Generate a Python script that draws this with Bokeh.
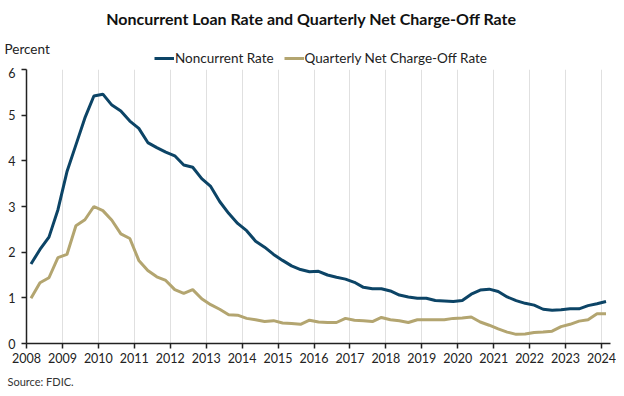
from bokeh.plotting import figure
from bokeh.layouts import column
from bokeh.models import Legend, LegendItem, Label, FixedTicker, Range1d, ColumnDataSource
from bokeh.embed import file_html
from bokeh.resources import INLINE

years = list(range(2008, 2025))
year_labels = [str(y) for y in years]
# quarterly values 2008Q1 .. 2024Q1
quarters = [f"{y}Q{q}" for y in range(2008, 2024) for q in range(1, 5)] + ["2024Q1"]
noncurrent = [1.74, 2.06, 2.33, 2.93, 3.76, 4.35, 4.94, 5.42, 5.46, 5.22, 5.09, 4.87,
              4.71, 4.40, 4.29, 4.19, 4.11, 3.91, 3.86, 3.61, 3.44, 3.11, 2.85, 2.63,
              2.47, 2.24, 2.11, 1.95, 1.82, 1.70, 1.62, 1.57, 1.58, 1.50, 1.45, 1.41,
              1.34, 1.23, 1.20, 1.20, 1.15, 1.06, 1.02, 0.99, 0.99, 0.94, 0.93, 0.92,
              0.94, 1.08, 1.17, 1.19, 1.14, 1.02, 0.94, 0.88, 0.84, 0.75, 0.73, 0.74,
              0.76, 0.76, 0.83, 0.87, 0.92]
chargeoff = [0.99, 1.33, 1.44, 1.88, 1.95, 2.58, 2.71, 3.00, 2.91, 2.70, 2.40, 2.30,
             1.82, 1.60, 1.46, 1.38, 1.18, 1.10, 1.18, 0.98, 0.85, 0.75, 0.63, 0.62,
             0.55, 0.52, 0.48, 0.50, 0.45, 0.44, 0.42, 0.51, 0.47, 0.46, 0.46, 0.55,
             0.51, 0.50, 0.48, 0.57, 0.52, 0.50, 0.46, 0.52, 0.52, 0.52, 0.52, 0.55,
             0.56, 0.58, 0.47, 0.40, 0.32, 0.25, 0.20, 0.21, 0.24, 0.25, 0.27, 0.37,
             0.42, 0.49, 0.52, 0.65, 0.65]
series_names = ["Noncurrent Rate", "Quarterly Net Charge-Off Rate"]

xpos = [int(s[:4]) + (int(s[-1]) - 1) / 4 + 0.125 for s in quarters]
src = ColumnDataSource(dict(x=xpos, nc=noncurrent, co=chargeoff))

FONT = "Lato"
NAVY = "#0c4466"
TAN = "#b3a570"
TXT = "#222222"

# ---- header: title, unit label, legend
W = 616
HH = 67
h = figure(width=W, height=HH, output_backend="svg", toolbar_location=None,
           x_axis_type=None, y_axis_type=None, x_range=Range1d(0, 1), y_range=Range1d(0, 1),
           min_border=0, min_border_left=0, min_border_right=0, min_border_top=0, min_border_bottom=0)
h.frame_align = False
h.outline_line_color = None
h.xgrid.visible = False
h.ygrid.visible = False
# legend-only renderers (their data lie outside this header's ranges)
d1 = h.line("x", "nc", source=src, line_color=NAVY, line_width=3)
d2 = h.line("x", "co", source=src, line_color=TAN, line_width=3)
h.add_layout(Label(x=311, y=HH - 18, x_units="screen", y_units="screen",
                   text="Noncurrent Loan Rate and Quarterly Net Charge-Off Rate",
                   text_font=FONT, text_font_size="16px", text_font_style="bold",
                   text_align="center", text_baseline="middle", text_color="#111111"))
h.add_layout(Label(x=4, y=HH - 48, x_units="screen", y_units="screen", text="Percent",
                   text_font=FONT, text_font_size="13.5px", text_baseline="middle",
                   text_color=TXT))
legend = Legend(items=[LegendItem(label=series_names[0], renderers=[d1]),
                       LegendItem(label=series_names[1], renderers=[d2])],
                orientation="horizontal", location=(154, 1),
                label_text_font=FONT, label_text_font_size="13.5px", label_text_color=TXT,
                glyph_width=20, glyph_height=12, label_standoff=1, spacing=10,
                padding=0, margin=0, border_line_color=None, background_fill_alpha=0)
h.add_layout(legend, "center")

# ---- main chart
p = figure(width=W, height=306, output_backend="svg", toolbar_location=None,
           x_range=Range1d(2008, 2024.25), y_range=Range1d(0, 6),
           min_border_left=26, min_border_right=6, min_border_top=2, min_border_bottom=30)
p.frame_align = False
p.outline_line_color = None
p.background_fill_color = "white"

p.line("x", "nc", source=src, line_color=NAVY, line_width=3)
p.line("x", "co", source=src, line_color=TAN, line_width=3)

p.xaxis.ticker = FixedTicker(ticks=years)
p.xaxis.major_label_overrides = {y: l for y, l in zip(years, year_labels)}
p.xgrid.ticker = FixedTicker(ticks=years[1:])
p.xgrid.grid_line_color = "#e0e0e0"
p.xgrid.grid_line_width = 1
p.ygrid.grid_line_color = None
p.yaxis.ticker = FixedTicker(ticks=[0, 1, 2, 3, 4, 5, 6])
for ax in (p.xaxis[0], p.yaxis[0]):
    ax.axis_line_color = TXT
    ax.axis_line_width = 1.5
    ax.major_tick_line_color = TXT
    ax.major_tick_line_width = 1.5
    ax.major_tick_in = 0
    ax.major_tick_out = 5
    ax.minor_tick_line_color = None
    ax.major_label_text_font = FONT
    ax.major_label_text_font_size = "12.5px"
    ax.major_label_text_color = TXT
p.xaxis.major_label_standoff = 4
p.yaxis.major_label_standoff = 6

# ---- footer: source note
FH = 15
f = figure(width=W, height=FH, output_backend="svg", toolbar_location=None,
           x_axis_type=None, y_axis_type=None, x_range=Range1d(0, 1), y_range=Range1d(0, 1),
           min_border=0, min_border_left=0, min_border_right=0, min_border_top=0, min_border_bottom=0)
f.frame_align = False
f.outline_line_color = None
f.xgrid.visible = False
f.ygrid.visible = False
f.add_layout(Label(x=7, y=7, x_units="screen", y_units="screen", text="Source: FDIC.",
                   text_font=FONT, text_font_size="11px", text_baseline="middle",
                   text_color="#333333"))

layout = column(h, p, f, spacing=0)
open("out.html", "w").write(file_html(layout, INLINE))
